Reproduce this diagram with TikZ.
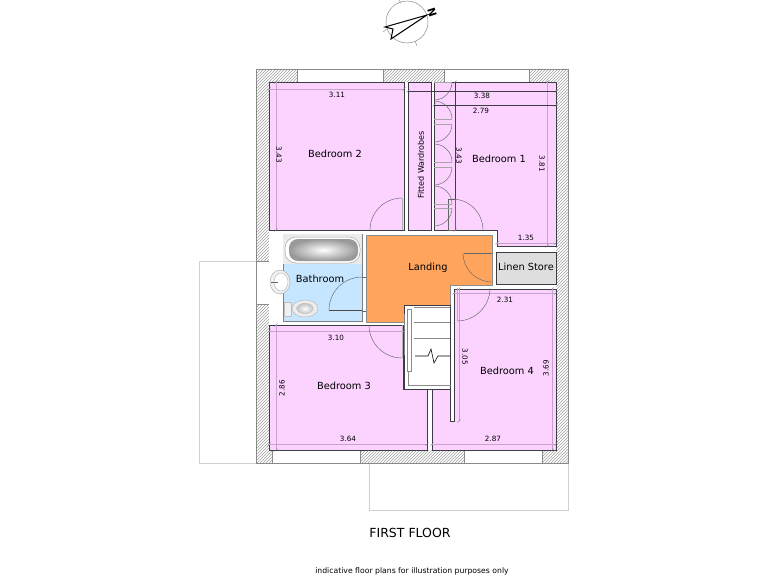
\documentclass[tikz,border=0pt]{standalone}
\usepackage{fontspec}
\usepackage{xcolor}
\usetikzlibrary{patterns}
\setmainfont{DejaVu Sans}
\definecolor{roompink}{HTML}{FCD3FF}
\definecolor{landingorange}{HTML}{FFA45C}
\definecolor{bathblue}{HTML}{C6E6FF}
\definecolor{storegrey}{HTML}{DEDEDE}
\definecolor{dimpurple}{HTML}{C6A3CC}
\definecolor{wallgrey}{HTML}{8A8A8A}
\definecolor{edgegrey}{HTML}{3C3C44}
\tikzset{
	room/.style={fill=roompink,draw=edgegrey,line width=0.8pt},
	hatchwall/.style={pattern=north east lines,pattern color=wallgrey!80,draw=wallgrey,line width=0.5pt},
	plotline/.style={draw=black!18,line width=0.6pt},
	dimline/.style={draw=dimpurple,line width=0.9pt},
	dimtick/.style={draw=edgegrey!70,line width=0.35pt},
	swing/.style={draw=black!60,line width=0.45pt},
	dimtext/.style={font=\fontsize{7.2}{8}\selectfont,inner sep=0pt},
	roomtext/.style={font=\fontsize{9.8}{11}\selectfont,inner sep=0pt},
}
\begin{document}
\begin{tikzpicture}[x=1pt,y=-1pt]
	\useasboundingbox (0,0) rectangle (768,576);
	\fill[white] (0,0) rectangle (768,576);
	
	%plot outlines
	\draw[plotline] (256,261)--(199,261)--(199,463)--(256,463);
	\draw[plotline] (369,463)--(369,510)--(568,510)--(568,463);
	
	%outer walls
	\draw[hatchwall] (256,69) rectangle (568,463);
	\fill[white] (269,82) rectangle (556,450);
	\fill[white] (297,69.5) rectangle (383,82);
	\fill[white] (444,69.5) rectangle (529,82);
	\fill[white] (272,450) rectangle (360,462.5);
	\fill[white] (464,450) rectangle (542,462.5);
	\fill[white] (256.5,261) rectangle (269,304);
	\draw[wallgrey,line width=0.5pt] (297,69)--(297,82) (383,69)--(383,82) (444,69)--(444,82) (529,69)--(529,82);
	\draw[wallgrey,line width=0.5pt] (272,450)--(272,463) (360,450)--(360,463) (464,450)--(464,463) (542,450)--(542,463);
	\draw[wallgrey,line width=0.5pt] (256,261)--(269,261) (256,304)--(269,304);
	
	%rooms
	\filldraw[room] (269,82) rectangle (404,230);
	\filldraw[room] (408,82) rectangle (431,230);
	\filldraw[room] (434,82)--(556,82)--(556,246)--(497,246)--(497,230)--(434,230)--cycle;
	\filldraw[room] (269,325)--(403,325)--(403,389)--(427,389)--(427,450)--(269,450)--cycle;
	\filldraw[room] (454,289)--(556,289)--(556,450)--(432,450)--(432,389)--(450,389)--(450,421)--(454,421)--cycle;
	\filldraw[fill=landingorange,draw=black!45,line width=0.6pt] (366,235)--(492,235)--(492,285)--(450,285)--(450,305)--(404,305)--(404,322)--(366,322)--cycle;
	\filldraw[fill=storegrey,draw=edgegrey,line width=0.7pt] (496,252) rectangle (556,284);
	
	%bathroom and fittings
	\filldraw[fill=bathblue,draw=black!50,line width=0.6pt] (283,234) rectangle (362,321);
	\fill[black!8] (283.4,234.4) rectangle (361.6,264);
	\filldraw[fill=white,draw=black!35,line width=0.5pt,rounded corners=11pt] (285,237) rectangle (360,263);
	\shade[inner color=white,outer color=black!40,rounded corners=9pt] (289,239) rectangle (358,261);
	\filldraw[fill=black!6,draw=black!35,line width=0.4pt] (280,282) ellipse (10 and 12);
	\filldraw[fill=white,draw=black!30,line width=0.4pt] (281,282) ellipse (7 and 9);
	\draw[black!60,line width=0.5pt] (271,282)--(278,282);
	\filldraw[fill=black!6,draw=black!25,line width=0.4pt] (284,302) rectangle (291,316);
	\filldraw[fill=black!7,draw=black!30,line width=0.4pt] (305,308.5) ellipse (13 and 8.5);
	\shade[inner color=white,outer color=black!25] (305,308.5) ellipse (8.5 and 5.5);
	
	%stairs
	\filldraw[fill=white,draw=edgegrey,line width=0.7pt] (404,322)--(404,389)--(450,389)--(450,305)--(404,305)--cycle;
	\draw[wallgrey,line width=0.7pt] (408,385)--(451,385) (408,371)--(408,385);
	\filldraw[fill=white,draw=wallgrey,line width=0.6pt] (407,309) rectangle (411,371);
	\foreach \y in {307,322,338}
		\draw[wallgrey,line width=0.7pt] (414,\y)--(450,\y);
	\draw[black,line width=0.6pt] (415,356)--(428,356)--(431,349)--(434,363)--(438,356)--(450,356);
	
	%dimension lines
	\foreach \a/\b in {{269,89}/{404,89},{276,82}/{276,230},{408,91}/{556,91},{434,105}/{556,105},{455,82}/{455,230},{547,82}/{547,246},{497,243}/{556,243},{269,331}/{404,331},{276,325}/{276,450},{269,444}/{427,444},{454,293}/{556,293},{459,289}/{459,421},{552,289}/{552,450},{432,444}/{556,444}}{
		\draw[dimline] (\a)--(\b);
		\draw[dimtick] (\a) ++(-1.5,1.5)--++(3,-3);
		\draw[dimtick] (\b) ++(-1.5,1.5)--++(3,-3);
	}
	\draw[edgegrey,line width=0.6pt] (408,91)--(556,91) (434,105)--(556,105) (455,82)--(455,230);
	\draw[black!60,line width=0.5pt] (448,199) rectangle (455,230);
	
	%doors
	\foreach \y/\s in {82/90,119/-90,124/90,162/-90,167/90,204/-90,208/90}{
		\draw[swing] (434,\y) ++(0:18) arc[start angle=0,end angle=\s,radius=18];
		\draw[black!35,line width=0.5pt] (434,\y)--(452,\y);
	}
	\foreach \c/\s/\e/\r in {{402,230}/-90/-180/32,{402,325}/90/180/33,{457,288}/90/0/33,{452,230}/-90/0/31,{362,310}/-90/-180/33,{492,253}/180/90/29}{
		\draw[swing] (\c) ++(\s:\r) arc[start angle=\s,end angle=\e,radius=\r];
	}
	\draw[black!30,line width=0.8pt] (402,230)--(402,198);
	\draw[black!30,line width=0.8pt] (402,325)--(402,358);
	\draw[black!30,line width=0.8pt] (457,288)--(457,321);
	\draw[black!70,line width=0.6pt] (362,310)--(329,310);
	\draw[black!60,line width=0.5pt] (362,277)--(366,277) (362,311)--(366,311);
	\draw[black!60,line width=0.6pt] (492,253)--(464,253);
	
	%compass
	\draw[black!45,line width=0.5pt] (407,22) circle (21);
	\draw[black!40,line width=0.5pt] (399,0)--(401,3) (383,32)--(387,29) (415,41)--(417,46);
	\draw[black,line width=1pt] (427,15)--(385,27)--(393,29)--(391,39)--cycle;
	\node[inner sep=0pt,rotate=-72,font=\bfseries\fontsize{10.5}{10}\selectfont] (north) at (432,12) {N};
	
	%labels
	\node[roomtext] (bed2) at (335,154) {Bedroom 2};
	\node[roomtext] (bed1) at (499,159) {Bedroom 1};
	\node[roomtext] (bed3) at (344,386) {Bedroom 3};
	\node[roomtext] (bed4) at (507,371) {Bedroom 4};
	\node[roomtext] (bath) at (320,279) {Bathroom};
	\node[roomtext] (landing) at (428,268) {Landing};
	\node[roomtext] (linen) at (526,267) {Linen Store};
	\node[dimtext,rotate=90,font=\fontsize{8}{9}\selectfont] (robes) at (421,165) {Fitted Wardrobes};
	\node[dimtext] (d311) at (337,95) {3.11};
	\node[dimtext,rotate=-90] (d343a) at (279,155) {3.43};
	\node[dimtext] (d338) at (482,96) {3.38};
	\node[dimtext] (d279) at (481,111) {2.79};
	\node[dimtext,rotate=-90] (d343b) at (459,156) {3.43};
	\node[dimtext,rotate=-90] (d381) at (542,164) {3.81};
	\node[dimtext] (d135) at (526,238) {1.35};
	\node[dimtext] (d231) at (505,300) {2.31};
	\node[dimtext] (d310) at (336,338) {3.10};
	\node[dimtext,rotate=-90] (d305) at (465,357) {3.05};
	\node[dimtext,rotate=90] (d369) at (546,368) {3.69};
	\node[dimtext,rotate=90] (d286) at (282,388) {2.86};
	\node[dimtext] (d364) at (348,439) {3.64};
	\node[dimtext] (d287) at (493,439) {2.87};
	\node[inner sep=0pt,font=\fontsize{12.5}{14}\selectfont] (title) at (410,533) {FIRST FLOOR};
	\node[inner sep=0pt,font=\fontsize{7.7}{9}\selectfont] (note) at (412,571) {indicative floor plans for illustration purposes only};
\end{tikzpicture}
\end{document}
